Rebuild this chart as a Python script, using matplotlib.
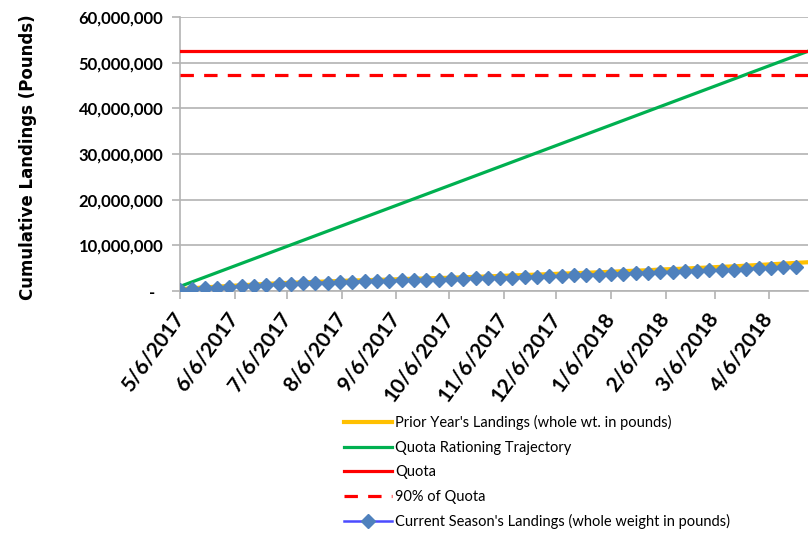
import matplotlib
matplotlib.use('Agg')
import matplotlib.pyplot as plt
import matplotlib.dates as mdates
import matplotlib.ticker as ticker
import numpy as np
from datetime import date, timedelta

# Season start and weekly dates
start = date(2017, 5, 6)
end = date(2018, 4, 28)

# Current season cumulative landings (million lbs), weekly from 5/6/2017
current = [0.2, 0.4, 0.55, 0.7, 0.85, 1.0, 1.15, 1.3, 1.45, 1.55,
           1.65, 1.75, 1.85, 1.95, 2.0, 2.1, 2.15, 2.2, 2.3, 2.35,
           2.45, 2.5, 2.6, 2.65, 2.75, 2.8, 2.9, 2.95, 3.05, 3.1,
           3.2, 3.3, 3.4, 3.5, 3.6, 3.7, 3.8, 3.9, 4.0, 4.1,
           4.2, 4.3, 4.4, 4.5, 4.6, 4.7, 4.85, 4.95, 5.05, 5.2, 5.3]

# Prior year's cumulative landings (million lbs), weekly
prior = [0.4, 0.6, 0.8, 0.95, 1.1, 1.25, 1.4, 1.55, 1.7, 1.8,
         1.9, 2.0, 2.1, 2.2, 2.3, 2.35, 2.45, 2.5, 2.6, 2.7,
         2.75, 2.85, 2.9, 3.0, 3.1, 3.2, 3.3, 3.4, 3.5, 3.6,
         3.7, 3.8, 3.9, 4.0, 4.1, 4.2, 4.35, 4.45, 4.55, 4.7,
         4.8, 4.9, 5.05, 5.15, 5.3, 5.4, 5.55, 5.7, 5.85, 6.0,
         6.15, 6.3]

# Quota and trajectory endpoints (million lbs)
quota = 52.5
quota90 = 47.25
trajectory = [1.0, 52.5]
trajectory_dates = [start, end]

current_dates = [start + timedelta(weeks=i) for i in range(len(current))]
prior_dates = [start + timedelta(weeks=i) for i in range(len(prior))]
tick_dates = [date(2017 + (4 + m) // 12, (4 + m) % 12 + 1, 6) for m in range(12)]

y_ticks = [0, 10e6, 20e6, 30e6, 40e6, 50e6, 60e6]

fig = plt.figure(figsize=(8.11, 5.38), dpi=100)
ax = fig.add_axes([180 / 811, 1 - 291 / 538, 628 / 811, 274 / 538])

ax.plot(prior_dates, np.array(prior) * 1e6, color='#FFC000', lw=3,
        label="Prior Year's Landings (whole wt. in pounds)", zorder=3)
ax.plot(trajectory_dates, np.array(trajectory) * 1e6, color='#00B050', lw=2.3,
        label='Quota Rationing Trajectory', zorder=3)
ax.plot([start, end], [quota * 1e6] * 2, color='#FF0000', lw=2.3,
        label='Quota', zorder=3)
ax.plot([start, end], [quota90 * 1e6] * 2, color='#FF0000', lw=2.3,
        dashes=(4.2, 3.2), label='90% of Quota', zorder=3)
ax.plot(current_dates, np.array(current) * 1e6, color='#4B4BFF', lw=1.8,
        marker='D', markersize=7.5, markerfacecolor='#4F81BD',
        markeredgecolor='#4F81BD', label="Current Season's Landings (whole weight in pounds)",
        zorder=4)

ax.set_xlim(start, end)
ax.set_ylim(0, 60e6)

# y axis: gridlines and accounting style labels
ax.set_yticks(y_ticks)
ax.yaxis.set_major_formatter(ticker.FuncFormatter(
    lambda v, p: '-  ' if v == 0 else '{:,.0f}'.format(v)))
ax.grid(axis='y', color='#B3B3B3', lw=1.2, zorder=0)
ax.set_axisbelow(True)

ax.set_xticks(tick_dates)
ax.xaxis.set_major_formatter(ticker.FuncFormatter(
    lambda v, p: '{d.month}/{d.day}/{d.year}'.format(d=mdates.num2date(v))))

for s in ['top', 'right']:
    ax.spines[s].set_visible(False)
ax.spines['left'].set_color('#B3B3B3')
ax.spines['bottom'].set_color('#B3B3B3')
ax.spines['left'].set_linewidth(1.2)
ax.spines['bottom'].set_linewidth(1.2)
ax.tick_params(axis='y', length=6, color='#B3B3B3', width=1.2, pad=6)
ax.tick_params(axis='x', length=6, color='#B3B3B3', width=1.2, pad=11)

for lab in ax.get_yticklabels():
    lab.set_fontfamily('Lato')
    lab.set_fontweight('bold')
    lab.set_fontsize(12)
for lab in ax.get_xticklabels():
    lab.set_fontfamily('Lato')
    lab.set_fontweight('bold')
    lab.set_fontsize(15)
    lab.set_rotation(54)
    lab.set_ha('right')
    lab.set_va('center')
    lab.set_rotation_mode('anchor')

fig.text(28 / 811, 1 - 157 / 538, 'Cumulative Landings (Pounds)', rotation=90,
         ha='center', va='center', fontsize=12, fontweight='bold',
         family='DejaVu Sans')

# legend below the chart
leg = fig.legend(loc='upper left', bbox_to_anchor=(331 / 811, 1 - 402 / 538),
                 frameon=False, handlelength=3.3, handletextpad=0.2,
                 labelspacing=0.72, prop={'family': 'Lato', 'size': 10.5})

fig.savefig('out.png', dpi=100)
